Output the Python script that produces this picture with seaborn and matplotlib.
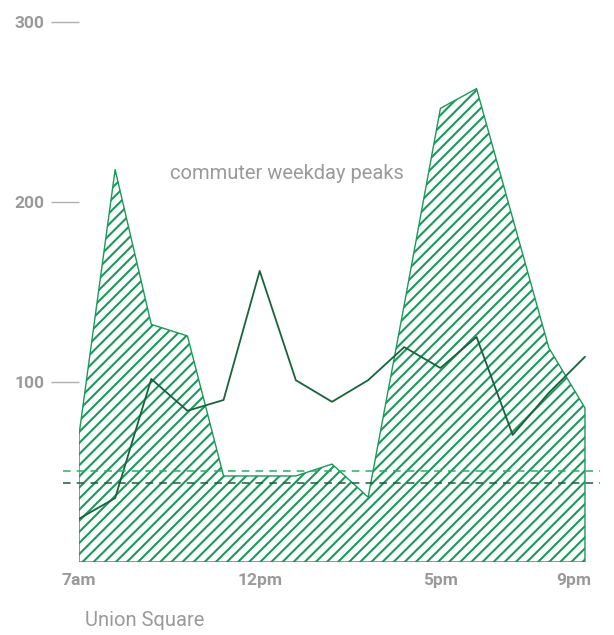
import numpy as np
import pandas as pd
import seaborn as sns
import matplotlib.pyplot as plt
import matplotlib.transforms as mtransforms

# hours from 7am to 9pm
hours = list(range(7, 22))
# hatched area series
peak_riders = [70.6, 218, 132, 125.6, 47.8, 47.8, 47.8, 54.4, 36, 143, 252, 263, 191, 119, 85.6]
# line series
avg_riders = [24, 35.5, 101.7, 84, 90, 161.7, 101, 89, 101, 119.4, 107.8, 125, 70.6, 94, 114]
# reference levels (dashed)
ref_levels = [50.6, 43.9]

tick_hours = [7, 12, 17, 21]
tick_labels = ["7am", "12pm", "5pm", "9pm"]
y_ticks = [100, 200, 300]

df = pd.DataFrame({"hour": hours, "peak": peak_riders, "avg": avg_riders})

sns.set_theme(style="white")
plt.rcParams['font.family'] = ['Roboto', 'DejaVu Sans']
plt.rcParams['hatch.linewidth'] = 1.5

fig = plt.figure(figsize=(6.14, 6.35), dpi=100)
ax = fig.add_axes([79 / 614, 73 / 635, 521 / 614, 540 / 635])

area_green = "#1a9a5a"
line_green = "#17643c"
grey = "#9a9a9a"

ax.fill_between(df["hour"], 0, df["peak"], facecolor="none", edgecolor=area_green,
                hatch="///", linewidth=1.0)
sns.lineplot(data=df, x="hour", y="avg", color=line_green, linewidth=1.3, ax=ax)

# dashed reference lines, a bit wider than the plot area
for lvl, c in zip(ref_levels, ["#2aae6a", "#1d5e3c"]):
    ax.plot([-0.03, 1.0], [lvl, lvl], transform=ax.get_yaxis_transform(),
            color=c, linestyle=(0, (5, 4)), linewidth=1.1, clip_on=False)

ax.set_xlim(7, 7 + 521 / 36.14)
ax.set_ylim(0, 300)
ax.set_xticks(tick_hours)
ax.set_xticklabels(tick_labels)
ax.set_yticks(y_ticks)
ax.tick_params(axis="x", length=0, pad=8, labelsize=12.5, labelcolor=grey)
ax.tick_params(axis="y", length=20, width=1, color="#b0b0b0", pad=5,
               labelsize=12.5, labelcolor=grey, left=True)
for lab in ax.get_xticklabels() + ax.get_yticklabels():
    lab.set_fontweight("bold")
# keep the last hour label inside the frame
last = ax.get_xticklabels()[-1]
last.set_ha("right")
last.set_transform(last.get_transform() + mtransforms.ScaledTranslation(6 / 100, 0, fig.dpi_scale_trans))
ax.set(xlabel="", ylabel="")
sns.despine(ax=ax, left=True, bottom=True)

ax.text(9.52, 216, "commuter weekday peaks", color=grey, fontsize=14.5,
        ha="left", va="center")
fig.text(85 / 614, 1 - 621 / 635, "Union Square", color=grey, fontsize=14.5,
         ha="left", va="center")

fig.savefig("out.png", dpi=100)
